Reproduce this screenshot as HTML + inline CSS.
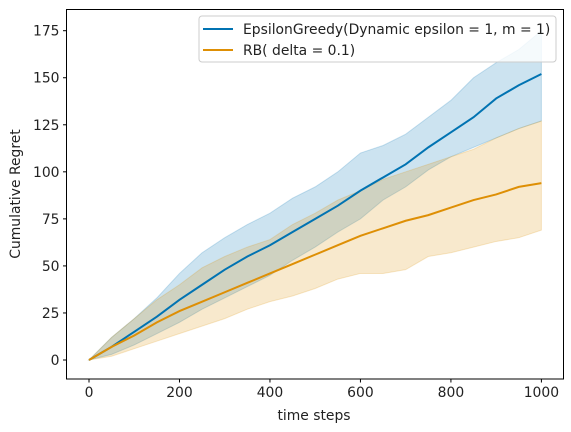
<!DOCTYPE html>
<html><head><meta charset="utf-8"><style>
body{margin:0;background:#fff;}
svg{display:block;font-family:"DejaVu Sans","Liberation Sans",sans-serif;}
</style></head><body>
<svg id="chart" width="571" height="432"></svg>
<script>
const steps=[0,50,100,150,200,250,300,350,400,450,500,550,600,650,700,750,800,850,900,950,1000];
const blueMean=[0,7,15,23,32,40,48,55,61,68,75,82,90,97,104,113,121,129,139,146,152];
const blueUpper=[0,12,22,33,46,57,65,72,78,86,92,100,110,114,120,129,138,150,158,165,175];
const blueLower=[0,3,8,14,20,27,33,39,45,53,60,68,75,85,92,101,108,113,118,123,127];
const orMean=[0,7,13,20,26,31,36,41,46,51,56,61,66,70,74,77,81,85,88,92,94];
const orUpper=[0,12,22,32,40,49,55,60,64,72,78,85,90,96,100,104,108,112,118,123,127];
const orLower=[0,2,6,10,14,18,22,27,31,34,38,43,46,46,48,55,57,60,63,65,69];
const xTicks=[0,200,400,600,800,1000];
const yTicks=[0,25,50,75,100,125,150,175];
const L=66.5,R=563.5,T=9.5,B=379;
const X=v=>89+v*(541.4-89)/1000;
const Y=v=>360-v*(360-30.7)/175;
const svg=document.getElementById('chart');
const NS='http://www.w3.org/2000/svg';
function mk(t,a){const e=document.createElementNS(NS,t);for(const k in a)e.setAttribute(k,a[k]);svg.appendChild(e);return e;}
function band(up,lo,col,name){
  let d='M'+steps.map((s,i)=>X(s)+','+Y(up[i])).join('L');
  d+='L'+steps.slice().reverse().map((s,j)=>{const i=steps.length-1-j;return X(s)+','+Y(lo[i]);}).join('L')+'Z';
  const p=mk('path',{d:d,fill:col,'fill-opacity':0.2,stroke:col,'stroke-opacity':0.2});
  
  
}
function line(v,col,name){
  const p=mk('polyline',{points:steps.map((s,i)=>X(s)+','+Y(v[i])).join(' '),fill:'none',stroke:col,'stroke-width':2});
  
  
}
band(blueUpper,blueLower,'#0173b2','epsilon-greedy-band');
band(orUpper,orLower,'#de8f05','rb-band');
line(blueMean,'#0173b2','epsilon-greedy-line');
line(orMean,'#de8f05','rb-line');
const fr=mk('rect',{x:L,y:T,width:R-L,height:B-T,fill:'none',stroke:'#000','stroke-width':1});


xTicks.forEach(t=>{
  mk('line',{x1:X(t),x2:X(t),y1:B,y2:B+3.5,stroke:'#000'});
  const tx=mk('text',{x:X(t),y:B+18,'text-anchor':'middle','font-size':13.9,fill:'#222'});
  tx.textContent=t;
  
  
});
yTicks.forEach(t=>{
  mk('line',{x1:L-3.5,x2:L,y1:Y(t),y2:Y(t),stroke:'#000'});
  const tx=mk('text',{x:L-7,y:Y(t)+5,'text-anchor':'end','font-size':13.9,fill:'#222'});
  tx.textContent=t;
  
  
});
</script>
<svg width="571" height="432" style="position:absolute;left:0;top:0">
<text x="314" y="420" text-anchor="middle" font-size="13.9" fill="#222">time steps</text>
<text transform="translate(20,194) rotate(-90)" text-anchor="middle" font-size="13.9" fill="#222">Cumulative Regret</text>
<g>
<rect x="199" y="16" width="357" height="46" rx="3" fill="#fff" fill-opacity="0.8" stroke="#ccc"/>
<line x1="203" x2="233" y1="29" y2="29" stroke="#0173b2" stroke-width="2"/>
<text x="243" y="34" font-size="13.9" fill="#222">EpsilonGreedy(Dynamic epsilon = 1, m = 1)</text>
<line x1="203" x2="233" y1="50" y2="50" stroke="#de8f05" stroke-width="2"/>
<text x="243" y="55" font-size="13.9" fill="#222">RB( delta = 0.1)</text>
</g>
</svg>
</body></html>
